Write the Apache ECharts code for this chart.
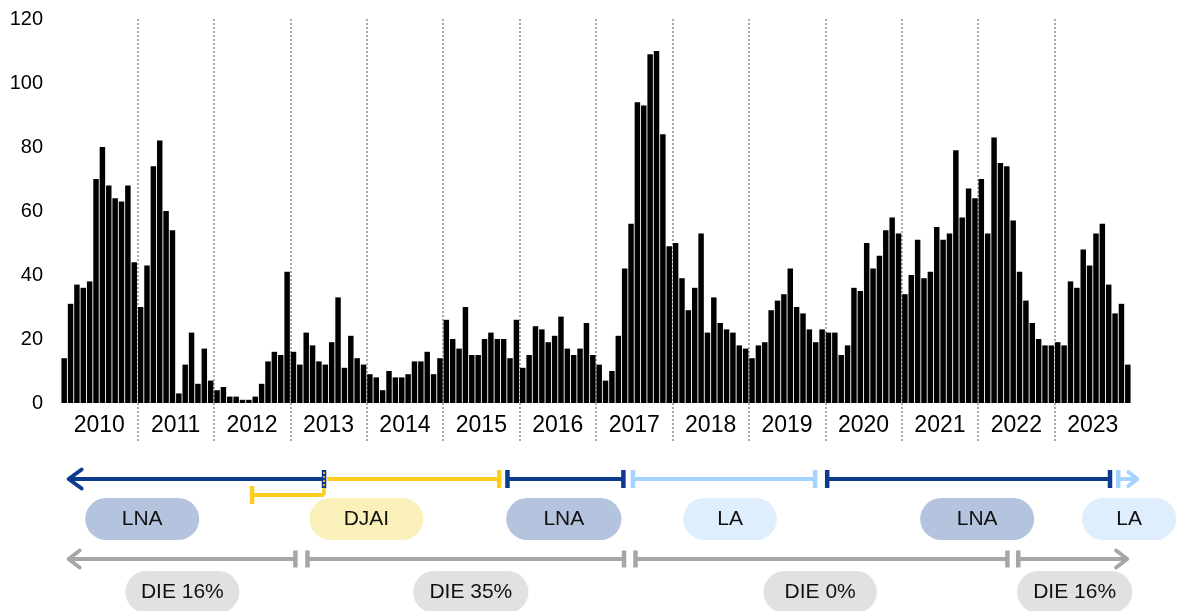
<!DOCTYPE html>
<html><head><meta charset="utf-8">
<script src="https://cdn.jsdelivr.net/npm/echarts@6/dist/echarts.min.js"></script>
<style>html,body{margin:0;padding:0;background:#fff}#c{width:1177px;height:611px}</style>
</head><body><div id="c"></div>
<script>
// ---- data ----
const years = ['2010','2011','2012','2013','2014','2015','2016','2017','2018','2019','2020','2021','2022','2023'];
const y2010 = [14,31,37,36,38,70,80,68,64,63,68,44];
const y2011 = [30,43,74,82,60,54,3,12,22,6,17,7];
const y2012 = [4,5,2,2,1,1,2,6,13,16,15,41];
const y2013 = [16,12,22,18,13,12,19,33,11,21,14,12];
const y2014 = [9,8,4,10,8,8,9,13,13,16,9,14];
const y2015 = [26,20,17,30,15,15,20,22,20,20,14,26];
const y2016 = [11,15,24,23,19,21,27,17,15,17,25,15];
const y2017 = [12,7,10,21,42,56,94,93,109,110,84,49];
const y2018 = [50,39,29,36,53,22,33,25,23,22,18,17];
const y2019 = [14,18,19,29,32,34,42,30,28,23,19,23];
const y2020 = [22,22,15,18,36,35,50,42,46,54,58,53];
const y2021 = [34,40,51,39,41,55,51,53,79,58,67,64];
const y2022 = [70,53,83,75,74,57,41,32,25,20,18,18];
const y2023 = [19,18,38,36,48,43,53,56,37,28,31,12];
const yTicks = [0,20,40,60,80,100,120];

// bottom annotations (positions in months from Jan 2010)
const regimeSegFrom = [41.3, 41.8, 41.3, 70.1, 89.8, 120.3, 166.0];
const regimeSegTo   = [1.2, 68.8, 30.0, 88.3, 118.4, 164.7, 169.0];
const regimeSegKind = ['LNA','DJAI','DJAI','LNA','LA','LNA','LA'];
const regimeSegEnd  = ['arrow','cap','cap','cap','cap','cap','arrow'];
const regimeSegStartCap = [true,false,false,true,true,true,true];
const regimeSegLower = [false,false,true,false,false,false,false];

const regimeNames = ['LNA','DJAI','LNA','LA','LNA','LA'];
const regimePillFrom = [3.8, 39.0, 69.9, 97.7, 134.9, 160.3];
const regimePillTo   = [21.7, 56.9, 88.0, 112.4, 152.8, 175.1];

const dieNames = ['DIE 16%','DIE 35%','DIE 0%','DIE 16%'];
const dieLineFrom = [36.8, 38.7, 90.2, 150.3];
const dieLineTo   = [1.2, 88.4, 148.6, 167.4];
const dieLineEnd  = ['arrow','cap','cap','arrow'];
const diePillFrom = [10.1, 55.3, 110.3, 150.1];
const diePillTo   = [28.0, 73.4, 128.1, 168.2];

// ---- build ----
const values = [].concat(y2010,y2011,y2012,y2013,y2014,y2015,y2016,y2017,y2018,y2019,y2020,y2021,y2022,y2023);
const months = [];
years.forEach(y => { for (let m = 1; m <= 12; m++) months.push(y + '-' + (m < 10 ? '0' + m : m)); });

const FONT = '"Liberation Sans", Arial, sans-serif';
const kindColor = {LNA:'#0b3a8f', DJAI:'#ffcd1c', LA:'#a5d3ff'};
const pillFill = {LNA:'#b4c4df', DJAI:'#faf1ba', LA:'#deeefd'};
const GRAY = '#a6a6a6';

function hLine(x0,x1,y,c,w){return {type:'line',shape:{x1:x0,y1:y,x2:x1,y2:y},style:{stroke:c,lineWidth:w}};}
function vLine(x,y0,y1,c,w,dash){return {type:'line',shape:{x1:x,y1:y0,x2:x,y2:y1},style:{stroke:c,lineWidth:w,lineDash:dash||null}};}
function chevron(x,y,dir,c,w,dx,dy){return {type:'polyline',shape:{points:[[x-dir*dx,y-dy],[x,y],[x-dir*dx,y+dy]]},style:{stroke:c,fill:null,lineWidth:w,lineCap:'round',lineJoin:'round'}};}

function regimeRender(params, api){
  const i = params.dataIndex;
  const xa = api.coord([api.value(0),0])[0], xb = api.coord([api.value(1),0])[0];
  const top = params.coordSys.y;
  const c = kindColor[regimeSegKind[i]];
  const lower = regimeSegLower[i];
  const y = top + (lower ? 40 : 24);
  const ch = [];
  const dir = xb > xa ? 1 : -1;
  if (lower) {
    ch.push(vLine(xa, top+33, y, c, 3.5));
  }
  ch.push(hLine(xa, xb, y, c, 4));
  if (regimeSegStartCap[i]) ch.push(vLine(xa, y-9, y+9, c, 4.5));
  if (regimeSegEnd[i] === 'cap') ch.push(vLine(xb, y-9, y+9, c, 4.5));
  else ch.push(chevron(xb, y, dir, c, 4, regimeSegKind[i]==='LA'?9:13, regimeSegKind[i]==='LA'?7:9.5));
  if (lower) {
    ch.push(vLine(xa, top+17, top+33, c, 1.6, [2,2]));
  }
  return {type:'group', children: ch};
}

function dieLineRender(params, api){
  const i = params.dataIndex;
  const xa = api.coord([api.value(0),0])[0], xb = api.coord([api.value(1),0])[0];
  const y = params.coordSys.y + 104;
  const dir = xb > xa ? 1 : -1;
  const ch = [hLine(xa, xb, y, GRAY, 4), vLine(xa, y-8.5, y+8.5, GRAY, 4.5)];
  if (dieLineEnd[i] === 'cap') ch.push(vLine(xb, y-8.5, y+8.5, GRAY, 4.5));
  else ch.push(chevron(xb, y, dir, GRAY, 4, 11, 8.5));
  return {type:'group', children: ch};
}

function pillRender(names, fills, topOff, h){
  return function(params, api){
    const i = params.dataIndex;
    const xa = api.coord([api.value(0),0])[0], xb = api.coord([api.value(1),0])[0];
    const y = params.coordSys.y + topOff;
    return {type:'group', children:[
      {type:'rect', shape:{x:xa, y:y, width:xb-xa, height:h, r:h/2}, style:{fill:fills[i]}},
      {type:'text', style:{text:names[i], x:(xa+xb)/2, y:y+h/2, align:'center', verticalAlign:'middle', fill:'#111', font:'21px ' + FONT}}
    ]};
  };
}

const chart = echarts.init(document.getElementById('c'), null, {renderer:'canvas'});
chart.setOption({
  animation: false,
  backgroundColor: '#fff',
  grid: [
    {left: 61, right: 46, top: 19, bottom: 168, containLabel: false},
    {left: 61, right: 46, top: 455, bottom: 0, containLabel: false}
  ],
  xAxis: [
    {type:'category', gridIndex:0, data: months, boundaryGap:true, show:false, position:'bottom'},
    {type:'category', gridIndex:0, data: years, boundaryGap:true, position:'bottom',
      axisLine:{show:false}, axisTick:{show:false},
      axisLabel:{inside:true, margin:6, interval:0, color:'#000', fontSize:23, fontFamily:FONT},
      splitLine:{show:true, interval:0, showMinLine:false, showMaxLine:false,
        lineStyle:{color:'#a8a8a8', width:2, type:[2,2]}}},
    {type:'value', gridIndex:1, min:0, max:168, show:false}
  ],
  yAxis: [
    {type:'value', gridIndex:0, min:-12.5, max:120,
      axisLine:{show:false}, axisTick:{show:false}, splitLine:{show:false},
      axisLabel:{customValues: yTicks, margin:18, color:'#000', fontSize:20, fontFamily:FONT}},
    {type:'value', gridIndex:1, min:0, max:1, show:false}
  ],
  series: [
    {type:'bar', xAxisIndex:0, yAxisIndex:0, data: values, barCategoryGap:'14%',
      itemStyle:{color:'#000'}, silent:true},
    {type:'custom', xAxisIndex:2, yAxisIndex:1, clip:false, silent:true, renderItem: regimeRender,
      data: regimeSegFrom.map((v,i)=>[v, regimeSegTo[i]])},
    {type:'custom', xAxisIndex:2, yAxisIndex:1, clip:false, silent:true,
      renderItem: pillRender(regimeNames, regimeNames.map(n=>pillFill[n]), 43, 42),
      data: regimePillFrom.map((v,i)=>[v, regimePillTo[i]])},
    {type:'custom', xAxisIndex:2, yAxisIndex:1, clip:false, silent:true, renderItem: dieLineRender,
      data: dieLineFrom.map((v,i)=>[v, dieLineTo[i]])},
    {type:'custom', xAxisIndex:2, yAxisIndex:1, clip:false, silent:true,
      renderItem: pillRender(dieNames, dieNames.map(()=> '#e1e1e1'), 116, 42),
      data: diePillFrom.map((v,i)=>[v, diePillTo[i]])}
  ]
});
</script></body></html>
